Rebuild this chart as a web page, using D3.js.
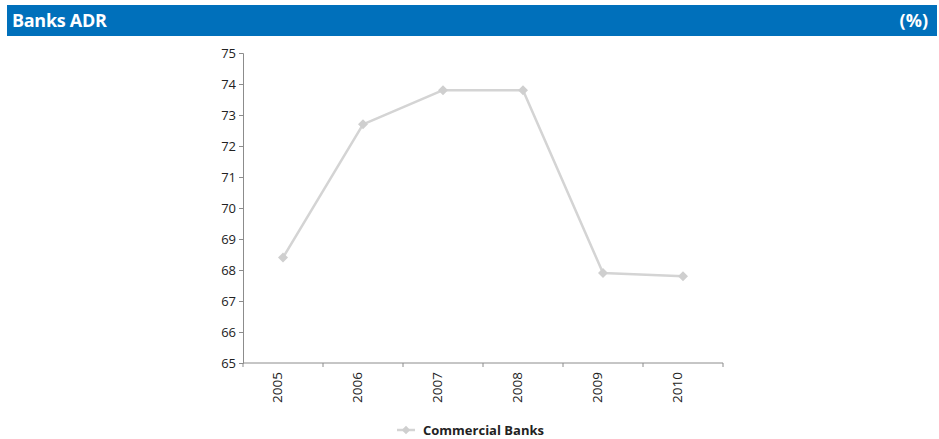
<!DOCTYPE html>
<html>
<head>
<meta charset="utf-8">
<script src="https://cdn.jsdelivr.net/npm/d3@7"></script>
<style>
  html, body { margin: 0; padding: 0; background: #fff; }
  svg { display: block; }
</style>
</head>
<body>
<svg id="chart" width="939" height="439"></svg>
<script>
// Loan-to-deposit ratio of commercial banks, by year
const years = ["2005", "2006", "2007", "2008", "2009", "2010"];
const adrValues = [68.4, 72.7, 73.8, 73.8, 67.9, 67.8];
const yTicks = [65, 66, 67, 68, 69, 70, 71, 72, 73, 74, 75];
const seriesName = "Commercial Banks";
const titleText = "Banks ADR";
const unitText = "(%)";

const svg = d3.select("#chart");
const font = "'Open Sans', 'Noto Sans', sans-serif";
const lineColor = "#d4d4d4";
const markerColor = "#cfcfcf";

// Header bar
svg.append("rect")
  .attr("x", 7).attr("y", 5).attr("width", 930).attr("height", 31)
  .attr("fill", "#0070bb");
svg.append("text")
  .attr("x", 12).attr("y", 27)
  .attr("fill", "#fff").attr("font-family", font)
  .attr("font-weight", "bold").attr("font-size", 18)
  .attr("letter-spacing", "-0.3")
  .text(titleText);
svg.append("text")
  .attr("x", 928).attr("y", 27)
  .attr("text-anchor", "end")
  .attr("fill", "#fff").attr("font-family", font)
  .attr("font-weight", "bold").attr("font-size", 18)
  .text(unitText);

// Plot area
const plotLeft = 243, plotRight = 723, plotTop = 53, plotBottom = 363;

const x = d3.scaleBand().domain(years).range([plotLeft, plotRight]);
const y = d3.scaleLinear().domain([65, 75]).range([plotBottom, plotTop]);

// Y axis
const yAxis = svg.append("g")
  .attr("transform", `translate(${plotLeft},0)`)
  .call(d3.axisLeft(y).tickValues(yTicks).tickSize(4).tickPadding(3).tickFormat(d3.format("d")));
yAxis.select(".domain").attr("stroke", "#8c8c8c");
yAxis.selectAll(".tick line").attr("stroke", "#8c8c8c");
yAxis.selectAll(".tick text")
  .attr("font-family", font).attr("font-size", 13).attr("fill", "#222");

// X axis with ticks on category boundaries
const xAxisG = svg.append("g").attr("transform", `translate(0,${plotBottom})`);
xAxisG.append("line")
  .attr("x1", plotLeft).attr("x2", plotRight)
  .attr("stroke", "#8c8c8c");
const boundaries = years.map(d => x(d)).concat([x(years[years.length - 1]) + x.bandwidth()]);
xAxisG.selectAll(".btick").data(boundaries).join("line")
  .attr("class", "btick")
  .attr("x1", d => d).attr("x2", d => d)
  .attr("y1", 0).attr("y2", 4)
  .attr("stroke", "#8c8c8c");
xAxisG.selectAll(".xlab").data(years).join("text")
  .attr("class", "xlab")
  .attr("transform", d => `translate(${x(d) + x.bandwidth() / 2 - 6},9) rotate(-90)`)
  .attr("text-anchor", "end")
  .attr("dy", "0.35em")
  .attr("font-family", font).attr("font-size", 13.5).attr("fill", "#222")
  .text(d => d);

// Series line
const pts = years.map((d, i) => [x(d) + x.bandwidth() / 2, y(adrValues[i])]);
svg.append("path")
  .attr("d", d3.line()(pts))
  .attr("fill", "none")
  .attr("stroke", lineColor)
  .attr("stroke-width", 2.5)
  .attr("stroke-linejoin", "round");

const diamond = d3.symbol().type(d3.symbolDiamond2).size(64);
svg.selectAll(".marker").data(pts).join("path")
  .attr("class", "marker")
  .attr("transform", d => `translate(${d[0]},${d[1]})`)
  .attr("d", diamond)
  .attr("fill", markerColor);

// Legend
const lg = svg.append("g").attr("transform", "translate(397,430)");
lg.append("line").attr("x1", 0).attr("x2", 18)
  .attr("stroke", lineColor).attr("stroke-width", 2.5);
lg.append("path").attr("transform", "translate(9,0)")
  .attr("d", d3.symbol().type(d3.symbolDiamond2).size(45))
  .attr("fill", markerColor);
lg.append("text")
  .attr("x", 26).attr("y", 0).attr("dy", "0.35em")
  .attr("font-family", font).attr("font-weight", "bold")
  .attr("font-size", 13).attr("fill", "#222")
  .text(seriesName);
</script>
</body>
</html>
